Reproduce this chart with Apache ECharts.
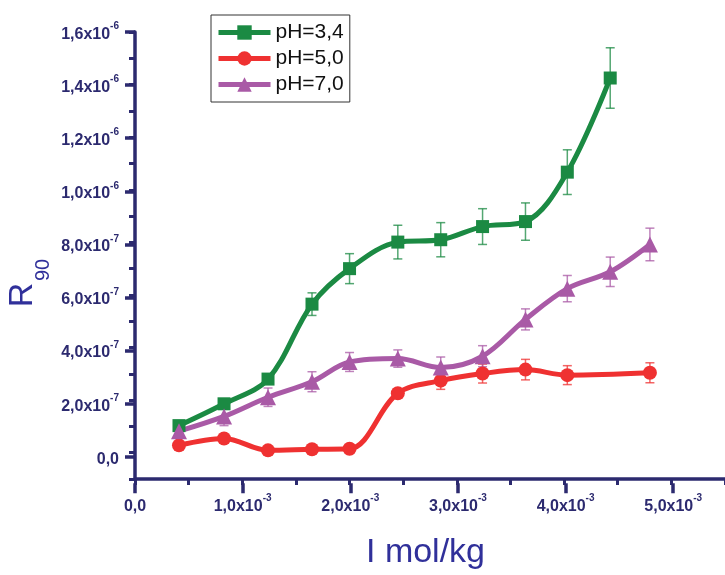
<!DOCTYPE html>
<html>
<head>
<meta charset="utf-8">
<script src="https://cdn.jsdelivr.net/npm/echarts@6/dist/echarts.min.js"></script>
<style>
  html, body { margin: 0; padding: 0; background: #ffffff; }
  #chart { width: 725px; height: 575px; }
</style>
</head>
<body>
<div id="chart"></div>
<script>
// Ionic strength I, in units of 1e-3 mol/kg
const ionicStrength = [0.41, 0.83, 1.24, 1.65, 2.00, 2.45, 2.85, 3.24, 3.64, 4.03, 4.43, 4.80];
const ionicStrengthPh34 = [0.41, 0.83, 1.24, 1.65, 2.00, 2.45, 2.85, 3.24, 3.64, 4.03, 4.43];
const ionicStrengthPh50 = [0.41, 0.83, 1.24, 1.65, 2.00, 2.45, 2.85, 3.24, 3.64, 4.03, 4.80];

// R90, in units of 1e-7
const ph34Values = [1.03, 1.86, 2.80, 5.65, 7.00, 8.01, 8.10, 8.60, 8.79, 10.67, 14.25];
const ph34Errors = [0.05, 0.10, 0.15, 0.43, 0.57, 0.64, 0.65, 0.68, 0.71, 0.85, 1.15];

const ph50Values = [0.28, 0.54, 0.09, 0.13, 0.15, 2.26, 2.74, 3.01, 3.16, 2.95, 3.04];
const ph50Errors = [0.05, 0.05, 0.05, 0.05, 0.05, 0.15, 0.33, 0.36, 0.39, 0.36, 0.38];

const ph70Values = [0.82, 1.38, 2.11, 2.70, 3.45, 3.58, 3.24, 3.67, 5.07, 6.24, 6.88, 7.92];
const ph70Errors = [0.25, 0.35, 0.35, 0.38, 0.36, 0.33, 0.40, 0.40, 0.40, 0.50, 0.56, 0.62];

const seriesNames = ['pH=3,4', 'pH=5,0', 'pH=7,0'];

const AXIS_COLOR = '#2c2a6f';
const TITLE_COLOR = '#30309a';
const FONT = 'Liberation Sans, Arial, sans-serif';
const COLORS = ['#1b8a43', '#ef3131', '#a95aa6'];

const labelRich = {
  m: { fontSize: 16, fontWeight: 'bold', color: AXIS_COLOR, fontFamily: FONT, padding: [5, 0, 0, 0] },
  s: { fontSize: 10, fontWeight: 'bold', color: AXIS_COLOR, fontFamily: FONT, verticalAlign: 'top' }
};

function fmtMantissa(v) {
  return v.toFixed(1).replace('.', ',');
}

// y values are stored in 1e-7 units
function yLabel(v) {
  if (Math.abs(v) < 1e-9) return '{m|0,0}';
  if (v >= 10) return '{m|' + fmtMantissa(v / 10) + 'x10}{s|-6}';
  return '{m|' + fmtMantissa(v) + 'x10}{s|-7}';
}

// x values are stored in 1e-3 units
function xLabel(v) {
  if (Math.abs(v) < 1e-9) return '{m|0,0}';
  return '{m|' + fmtMantissa(v) + 'x10}{s|-3}';
}

function zip(xs, ys) {
  return xs.map((x, i) => [x, ys[i]]);
}

function errorBars(name, xs, ys, es, color) {
  return {
    type: 'custom',
    name: name + ' error',
    xAxisIndex: 0,
    yAxisIndex: 0,
    z: 2,
    silent: true,
    encode: { x: 0, y: [1, 2] },
    data: xs.map((x, i) => [x, ys[i] - es[i], ys[i] + es[i]]),
    renderItem: function (params, api) {
      const lo = api.coord([api.value(0), api.value(1)]);
      const hi = api.coord([api.value(0), api.value(2)]);
      const w = 4.5;
      const style = { stroke: color, lineWidth: 1.5, opacity: 0.75 };
      return {
        type: 'group',
        children: [
          { type: 'line', shape: { x1: hi[0], y1: hi[1], x2: lo[0], y2: lo[1] }, style: style },
          { type: 'line', shape: { x1: hi[0] - w, y1: hi[1], x2: hi[0] + w, y2: hi[1] }, style: style },
          { type: 'line', shape: { x1: lo[0] - w, y1: lo[1], x2: lo[0] + w, y2: lo[1] }, style: style }
        ]
      };
    }
  };
}

function lineSeries(name, xs, ys, color, symbol, size) {
  return {
    type: 'line',
    name: name,
    xAxisIndex: 0,
    yAxisIndex: 0,
    z: 3,
    data: zip(xs, ys),
    smooth: 0.35,
    symbol: symbol,
    symbolSize: size,
    showAllSymbol: true,
    lineStyle: { width: 5, color: color },
    itemStyle: { color: color, opacity: 1 }
  };
}

const hiddenAxis = {
  show: false
};

const chart = echarts.init(document.getElementById('chart'), null, { renderer: 'canvas' });

chart.setOption({
  animation: false,
  backgroundColor: '#ffffff',
  textStyle: { fontFamily: FONT },
  grid: [
    // plotting area with the full axis extent and minor ticks
    { left: 135, top: 32, right: -2, bottom: 91.7 },
    // labelled major ticks on I (0 .. 5e-3)
    { left: 135, top: 32, right: 51.8, bottom: 91.7 },
    // labelled major ticks on R90 (0 .. 1.6e-6)
    { left: 135, top: 32, right: -2, bottom: 118.3 }
  ],
  legend: {
    orient: 'vertical',
    left: 211,
    top: 15,
    padding: [7, 6, 7, 5],
    itemGap: 5,
    itemWidth: 52,
    itemHeight: 18,
    borderColor: '#333333',
    borderWidth: 1,
    lineStyle: { width: 5 },
    textStyle: { fontSize: 21, color: '#111111', fontFamily: FONT },
    data: seriesNames
  },
  xAxis: [
    {
      type: 'value', gridIndex: 0, min: 0, max: 5.5, interval: 0.5,
      axisLine: { show: true, onZero: false, lineStyle: { color: AXIS_COLOR, width: 3.5 } },
      axisTick: { show: true, length: 6, lineStyle: { color: AXIS_COLOR, width: 3 } },
      axisLabel: { show: false },
      splitLine: { show: false },
      name: 'I mol/kg',
      nameLocation: 'middle',
      nameGap: 57,
      nameTextStyle: { fontSize: 34, color: TITLE_COLOR, fontFamily: FONT, padding: [0, 9, 0, 0] }
    },
    {
      type: 'value', gridIndex: 1, min: 0, max: 5, interval: 1,
      axisLine: { show: false, onZero: false },
      axisTick: { show: true, length: 10, lineStyle: { color: AXIS_COLOR, width: 3.5 } },
      axisLabel: { show: true, margin: 10, formatter: xLabel, rich: labelRich },
      splitLine: { show: false }
    },
    Object.assign({ type: 'value', gridIndex: 2, min: 0, max: 5.5 }, hiddenAxis)
  ],
  yAxis: [
    {
      type: 'value', gridIndex: 0, min: -1, max: 16, interval: 1,
      axisLine: { show: true, onZero: false, lineStyle: { color: AXIS_COLOR, width: 3.5 } },
      axisTick: { show: true, length: 6, lineStyle: { color: AXIS_COLOR, width: 3 } },
      axisLabel: { show: false },
      splitLine: { show: false }
    },
    Object.assign({ type: 'value', gridIndex: 1, min: -1, max: 16 }, hiddenAxis),
    {
      type: 'value', gridIndex: 2, min: 0, max: 16, interval: 2,
      axisLine: { show: false, onZero: false },
      axisTick: { show: true, length: 10, lineStyle: { color: AXIS_COLOR, width: 3.5 } },
      axisLabel: { show: true, margin: 16, formatter: yLabel, rich: labelRich },
      splitLine: { show: false }
    }
  ],
  graphic: [
    {
      type: 'text', x: 23, y: 295, rotation: Math.PI / 2,
      style: { text: 'R', fontSize: 34, fontFamily: FONT, fill: TITLE_COLOR, align: 'center', verticalAlign: 'middle' }
    },
    {
      type: 'text', x: 43, y: 270, rotation: Math.PI / 2,
      style: { text: '90', fontSize: 20, fontFamily: FONT, fill: TITLE_COLOR, align: 'center', verticalAlign: 'middle' }
    }
  ],
  series: [
    errorBars(seriesNames[0], ionicStrengthPh34, ph34Values, ph34Errors, COLORS[0]),
    errorBars(seriesNames[1], ionicStrengthPh50, ph50Values, ph50Errors, COLORS[1]),
    errorBars(seriesNames[2], ionicStrength, ph70Values, ph70Errors, COLORS[2]),
    lineSeries(seriesNames[0], ionicStrengthPh34, ph34Values, COLORS[0], 'rect', 13),
    lineSeries(seriesNames[1], ionicStrengthPh50, ph50Values, COLORS[1], 'circle', 14),
    lineSeries(seriesNames[2], ionicStrength, ph70Values, COLORS[2], 'triangle', 16)
  ]
});
</script>
</body>
</html>
